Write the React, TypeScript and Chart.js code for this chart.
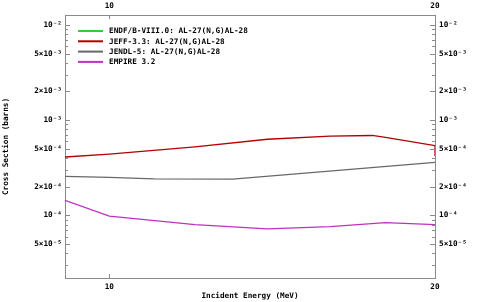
import React, { useEffect, useRef } from 'react';
import { Chart, registerables } from 'chart.js';

Chart.register(...registerables);

const X_MIN = 9.1;
const X_MAX = 20;
const Y_MIN = 2.2e-5;
const Y_MAX = 1.27e-2;

const seriesLabels = [
  'ENDF/B-VIII.0: AL-27(N,G)AL-28',
  'JEFF-3.3: AL-27(N,G)AL-28',
  'JENDL-5: AL-27(N,G)AL-28',
  'EMPIRE 3.2',
];
const seriesColors = ['#3cc83c', '#b40000', '#686868', '#c030c0'];

const endfE: number[] = [];
const endfXS: number[] = [];
const jeffE = [9.1, 10, 12, 14, 16, 17.5, 18, 20, 20];
const jeffXS = [4.1e-4, 4.4e-4, 5.25e-4, 6.3e-4, 6.8e-4, 6.9e-4, 6.6e-4, 5.4e-4, 4.2e-4];
const jendlE = [9.1, 10, 11, 13, 20];
const jendlXS = [2.57e-4, 2.5e-4, 2.42e-4, 2.4e-4, 3.6e-4];
const empireE = [9.1, 10, 12, 14, 16, 18, 20];
const empireXS = [1.44e-4, 9.8e-5, 8.0e-5, 7.2e-5, 7.6e-5, 8.4e-5, 8.0e-5];

const xTickValues = [10, 20];
const xTickLabels = ['10', '20'];
const yTickValues = [
  3e-5, 4e-5, 5e-5, 6e-5, 7e-5, 8e-5, 9e-5,
  1e-4, 2e-4, 3e-4, 4e-4, 5e-4, 6e-4, 7e-4, 8e-4, 9e-4,
  1e-3, 2e-3, 3e-3, 4e-3, 5e-3, 6e-3, 7e-3, 8e-3, 9e-3,
  1e-2,
];
const yTickLabels = [
  '', '', '5×10⁻⁵', '', '', '', '',
  '10⁻⁴', '2×10⁻⁴', '', '', '5×10⁻⁴', '', '', '', '',
  '10⁻³', '2×10⁻³', '', '', '5×10⁻³', '', '', '', '',
  '10⁻²',
];

const AXIS_COLOR = '#8a8a8a';
const FONT_FAMILY = '"DejaVu Sans Mono", monospace';
const FONT = { family: FONT_FAMILY, size: 7.7, weight: 'bold' as const };

const toPoints = (xs: number[], ys: number[]) => xs.map((x, i) => ({ x, y: ys[i] }));

const inwardTicks = {
  id: 'inwardTicks',
  afterDatasetsDraw(chart: any) {
    const { ctx, chartArea: a, scales } = chart;
    ctx.save();
    ctx.strokeStyle = AXIS_COLOR;
    ctx.lineWidth = 1;
    ctx.beginPath();
    scales.y.ticks.forEach((t: any, i: number) => {
      const py = Math.round(scales.y.getPixelForValue(t.value)) + 0.5;
      const len = yTickLabels[i] ? 5 : 3;
      ctx.moveTo(a.left, py);
      ctx.lineTo(a.left + len, py);
      ctx.moveTo(a.right, py);
      ctx.lineTo(a.right - len, py);
    });
    scales.x.ticks.forEach((t: any) => {
      const px = Math.round(scales.x.getPixelForValue(t.value)) + 0.5;
      ctx.moveTo(px, a.bottom);
      ctx.lineTo(px, a.bottom - 4);
      ctx.moveTo(px, a.top);
      ctx.lineTo(px, a.top + 4);
    });
    ctx.stroke();
    ctx.restore();
  },
};

const insideLegend = {
  id: 'insideLegend',
  afterDraw(chart: any) {
    const { ctx, chartArea: a } = chart;
    ctx.save();
    ctx.font = `bold 7.7px ${FONT_FAMILY}`;
    ctx.textBaseline = 'middle';
    ctx.textAlign = 'left';
    chart.data.datasets.forEach((ds: any, i: number) => {
      const y = a.top + 16 + i * 10.3;
      ctx.strokeStyle = ds.borderColor;
      ctx.lineWidth = 2;
      ctx.beginPath();
      ctx.moveTo(a.left + 13, y);
      ctx.lineTo(a.left + 38, y);
      ctx.stroke();
      ctx.fillStyle = '#000';
      ctx.fillText(ds.label, a.left + 44, y + 0.5);
    });
    ctx.restore();
  },
};

export default function App() {
  const ref = useRef<HTMLCanvasElement>(null);

  useEffect(() => {
    document.body.style.margin = '0';
    const canvas = ref.current;
    if (!canvas) return;
    const xs = [endfE, jeffE, jendlE, empireE];
    const ys = [endfXS, jeffXS, jendlXS, empireXS];
    const chart = new Chart(canvas, {
      type: 'line',
      data: {
        datasets: seriesLabels.map((label, i) => ({
          label,
          data: toPoints(xs[i], ys[i]),
          borderColor: seriesColors[i],
          backgroundColor: seriesColors[i],
          borderWidth: 1.3,
          pointRadius: 0,
          tension: 0,
        })),
      },
      options: {
        animation: false,
        responsive: false,
        devicePixelRatio: 1,
        layout: { padding: 0 },
        plugins: { legend: { display: false }, tooltip: { enabled: false } },
        scales: {
          x: {
            type: 'logarithmic',
            position: 'bottom',
            min: X_MIN,
            max: X_MAX,
            afterBuildTicks: (s: any) => { s.ticks = xTickValues.map((v) => ({ value: v })); },
            afterFit: (s: any) => { s.height = 24; },
            grid: { display: false, drawTicks: false },
            border: { display: true, color: AXIS_COLOR, width: 1 },
            ticks: {
              autoSkip: false,
              maxRotation: 0,
              padding: 4,
              color: '#000',
              font: FONT,
              callback: (_v: any, i: number) => xTickLabels[i],
            },
            title: {
              display: true,
              text: 'Incident Energy (MeV)',
              color: '#000',
              font: FONT,
              padding: { top: 0, bottom: 1.5 },
            },
          },
          x2: {
            type: 'logarithmic',
            position: 'top',
            min: X_MIN,
            max: X_MAX,
            afterBuildTicks: (s: any) => { s.ticks = xTickValues.map((v) => ({ value: v })); },
            afterFit: (s: any) => { s.height = 15; },
            grid: { display: false, drawTicks: false },
            border: { display: true, color: AXIS_COLOR, width: 1 },
            ticks: {
              autoSkip: false,
              maxRotation: 0,
              padding: 4,
              color: '#000',
              font: FONT,
              callback: (_v: any, i: number) => xTickLabels[i],
            },
          },
          y: {
            type: 'logarithmic',
            position: 'left',
            min: Y_MIN,
            max: Y_MAX,
            afterBuildTicks: (s: any) => { s.ticks = yTickValues.map((v) => ({ value: v })); },
            afterFit: (s: any) => { s.width = 65; },
            grid: { display: false, drawTicks: false },
            border: { display: true, color: AXIS_COLOR, width: 1 },
            ticks: {
              autoSkip: false,
              padding: 3,
              color: '#000',
              font: FONT,
              callback: (_v: any, i: number) => yTickLabels[i],
            },
            title: {
              display: true,
              text: 'Cross Section (barns)',
              color: '#000',
              font: FONT,
              padding: { top: 1, bottom: 0 },
            },
          },
          y2: {
            type: 'logarithmic',
            position: 'right',
            min: Y_MIN,
            max: Y_MAX,
            afterBuildTicks: (s: any) => { s.ticks = yTickValues.map((v) => ({ value: v })); },
            afterFit: (s: any) => { s.width = 45; },
            grid: { display: false, drawTicks: false },
            border: { display: true, color: AXIS_COLOR, width: 1 },
            ticks: {
              autoSkip: false,
              padding: 4,
              color: '#000',
              font: FONT,
              callback: (_v: any, i: number) => yTickLabels[i],
            },
          },
        },
      } as any,
      plugins: [inwardTicks, insideLegend],
    });
    return () => chart.destroy();
  }, []);

  return (
    <div style={{ width: 480, height: 302 }}>
      <canvas ref={ref} width={480} height={302} style={{ display: 'block', width: 480, height: 302 }} />
    </div>
  );
}
